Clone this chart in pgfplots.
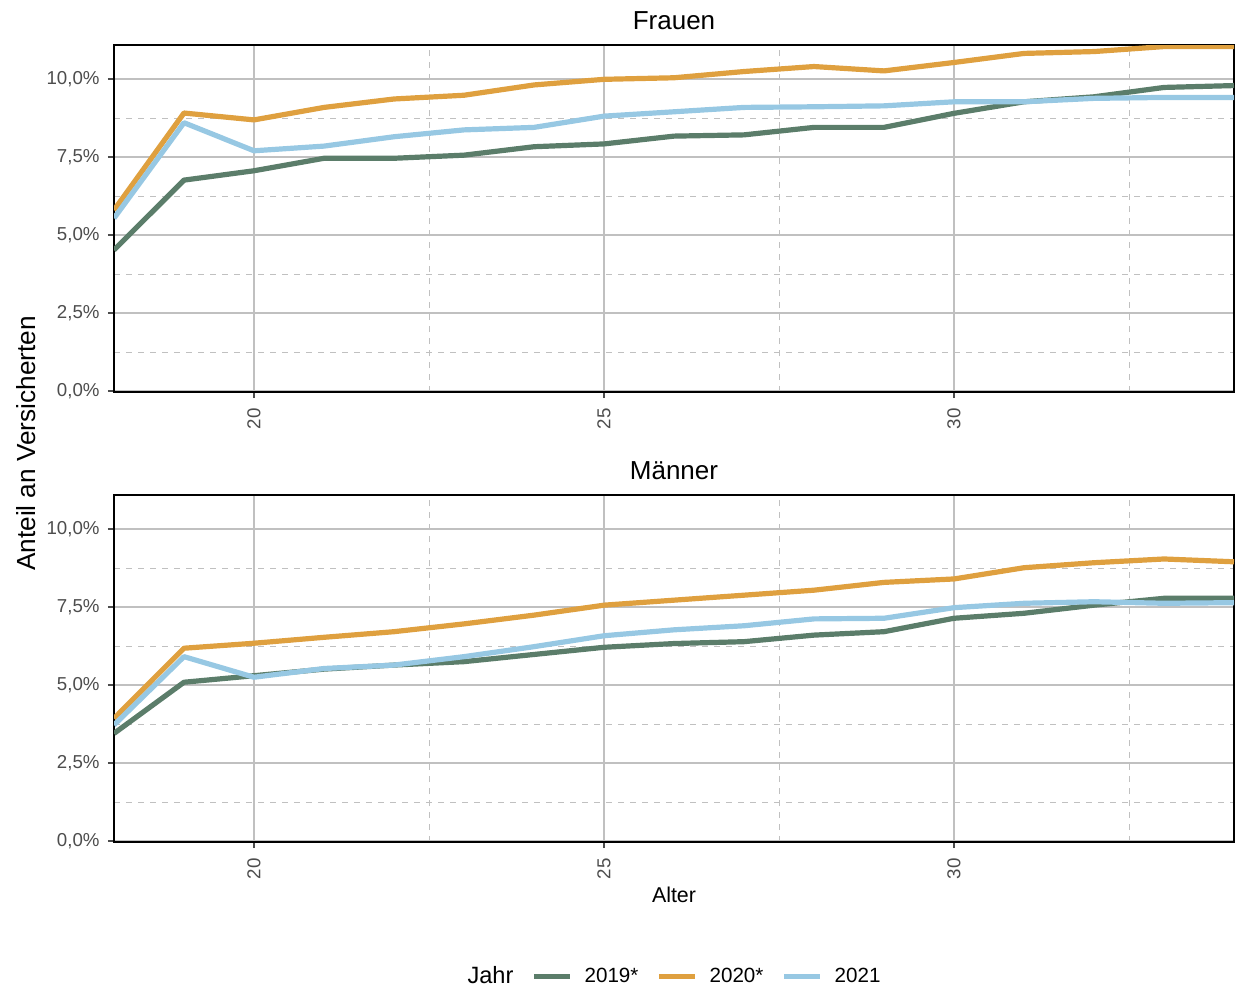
\documentclass[border=0pt]{standalone}
\usepackage{pgfplots}
\pgfplotsset{compat=1.18}
\usepackage{pgfplotstable}
\usepackage{fontspec}
\setmainfont{Liberation Sans}
\definecolor{c19}{HTML}{5B7D6A}
\definecolor{c20}{HTML}{DFA03F}
\definecolor{c21}{HTML}{97C8E3}
\definecolor{gridc}{HTML}{C0C0C0}
\definecolor{tickc}{HTML}{4D4D4D}

\pgfplotstableread{
age y19 y20 y21
18 4.52 5.80 5.54
19 6.76 8.91 8.60
20 7.06 8.69 7.70
21 7.46 9.09 7.85
22 7.46 9.36 8.15
23 7.56 9.48 8.37
24 7.83 9.81 8.45
25 7.92 9.99 8.81
26 8.17 10.04 8.95
27 8.21 10.24 9.09
28 8.45 10.40 9.11
29 8.45 10.26 9.14
30 8.90 10.53 9.27
31 9.27 10.82 9.27
32 9.43 10.88 9.38
33 9.73 11.04 9.41
34 9.79 11.04 9.41
}\frauen

\pgfplotstableread{
age y19 y20 y21
18 3.45 3.93 3.72
19 5.09 6.18 5.91
20 5.30 6.34 5.25
21 5.51 6.53 5.53
22 5.64 6.71 5.64
23 5.75 6.96 5.91
24 5.98 7.24 6.23
25 6.21 7.56 6.58
26 6.33 7.72 6.77
27 6.39 7.88 6.90
28 6.60 8.04 7.12
29 6.71 8.29 7.14
30 7.14 8.40 7.48
31 7.30 8.76 7.62
32 7.56 8.92 7.67
33 7.78 9.04 7.62
34 7.78 8.95 7.64
}\maenner

\pgfplotsset{panel/.style={
  scale only axis, width=560bp, height=173.5bp,
  xmin=18, xmax=34, ymin=-0.03, ymax=11.09,
  xtick={20,25,30}, xticklabels={20,25,30},
  ytick={0,2.5,5,7.5,10},
  yticklabels={{0,0\%},{2,5\%},{5,0\%},{7,5\%},{10,0\%}},
  minor xtick={22.5,27.5,32.5}, minor ytick={1.25,3.75,6.25,8.75},
  grid=both,
  major grid style={gridc, line width=1bp},
  minor grid style={gridc, line width=0.5bp, dash pattern=on 3bp off 3bp},
  axis line style={black, line width=1.1bp},
  tick align=outside, xtick pos=bottom, ytick pos=left,
  major tick length=3bp, minor tick length=0pt,
  tick style={tickc, line width=1bp},
  ticklabel style={font=\fontsize{9.35bp}{11bp}\selectfont, text=tickc},
  yticklabel style={anchor=east, inner sep=0pt},
  xticklabel style={rotate=90, anchor=east, inner sep=0pt},
  yticklabel shift=4bp,
  xticklabel shift=5bp,
  title style={font=\fontsize{13bp}{15bp}\selectfont, at={(0.5,1)}, anchor=center, inner sep=0pt},
  every axis plot/.append style={line width=2.6bp, line join=round},
  legend image code/.code={\draw[##1] (0bp,0bp) -- (18bp,0bp); \path (22bp,0bp);},
}}

\begin{document}
\begin{tikzpicture}
\useasboundingbox (0bp,0bp) rectangle (619bp,-493.5bp);
\begin{axis}[panel, at={(57bp,-196bp)}, anchor=south west,
  title={Frauen}, title style={yshift=6.1bp}]
\addplot[c19] table[x=age, y=y19] {\frauen};
\addplot[c20] table[x=age, y=y20] {\frauen};
\addplot[c21] table[x=age, y=y21] {\frauen};
\end{axis}
\begin{axis}[panel, at={(57bp,-421bp)}, anchor=south west,
  title={Männer}, title style={yshift=6.2bp},
  legend columns=-1,
  legend style={at={(0.5,-0.388)}, anchor=center, draw=none, fill=none,
    font=\fontsize{10.3bp}{12bp}\selectfont,
    /tikz/every even column/.append style={column sep=7bp}}]
\addlegendimage{empty legend}
\addlegendentry{\fontsize{11.8bp}{13bp}\selectfont Jahr}
\addplot[c19] table[x=age, y=y19] {\maenner};
\addlegendentry{2019*}
\addplot[c20] table[x=age, y=y20] {\maenner};
\addlegendentry{2020*}
\addplot[c21] table[x=age, y=y21] {\maenner};
\addlegendentry{2021}
\end{axis}
\node[rotate=90, font=\fontsize{13.1bp}{15bp}\selectfont, inner sep=0pt] at (13bp,-221.7bp) {Anteil an Versicherten};
\node[font=\fontsize{10.7bp}{12bp}\selectfont, inner sep=0pt] at (337bp,-447.5bp) {Alter};
\end{tikzpicture}
\end{document}
